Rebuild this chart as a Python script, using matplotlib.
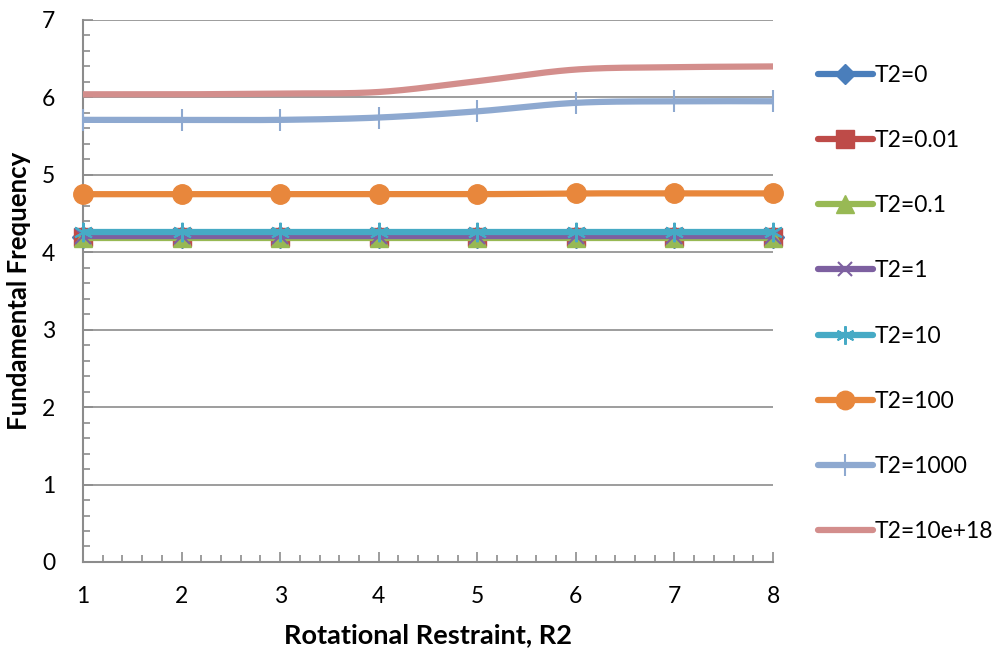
import numpy as np
import matplotlib.pyplot as plt
from matplotlib.ticker import MultipleLocator
from matplotlib.lines import Line2D

plt.rcParams["font.family"] = ["Lato", "DejaVu Sans"]

# rotational restraint values along the x axis
r2 = [1, 2, 3, 4, 5, 6, 7, 8]

labels = ["T2=0", "T2=0.01", "T2=0.1", "T2=1", "T2=10", "T2=100", "T2=1000", "T2=10e+18"]

f_t0 = [4.20, 4.20, 4.20, 4.20, 4.20, 4.20, 4.20, 4.20]
f_t001 = [4.20, 4.20, 4.20, 4.20, 4.20, 4.20, 4.20, 4.20]
f_t01 = [4.19, 4.19, 4.19, 4.19, 4.19, 4.19, 4.19, 4.19]
f_t1 = [4.21, 4.21, 4.21, 4.21, 4.21, 4.21, 4.21, 4.21]
f_t10 = [4.26, 4.26, 4.26, 4.26, 4.26, 4.26, 4.26, 4.26]
f_t100 = [4.75, 4.75, 4.75, 4.75, 4.75, 4.76, 4.76, 4.76]
f_t1000 = [5.71, 5.71, 5.71, 5.74, 5.82, 5.93, 5.95, 5.95]
f_t1e18 = [6.04, 6.04, 6.05, 6.07, 6.21, 6.36, 6.39, 6.40]

series = [f_t0, f_t001, f_t01, f_t1, f_t10, f_t100, f_t1000, f_t1e18]
colors = ["#4A7EBB", "#BE4B48", "#98B954", "#7D60A0", "#46AAC5", "#E8873C", "#8EA9D0", "#D38E8C"]
markers = ["D", "s", "^", "x", (6, 2, 0), "o", "|", None]
msizes = [11, 13, 13, 11, 14, 14, 16, 0]
thin = ("x", "|", (6, 2, 0))


def smooth(x, y, n=30):
    # Catmull-Rom curve through the points, like a smoothed spreadsheet line
    x = np.asarray(x, float)
    y = np.asarray(y, float)
    px = np.concatenate([[2 * x[0] - x[1]], x, [2 * x[-1] - x[-2]]])
    py = np.concatenate([[2 * y[0] - y[1]], y, [2 * y[-1] - y[-2]]])
    xs, ys = [], []
    t = np.linspace(0, 1, n)
    for i in range(1, len(px) - 2):
        for p, out in ((px, xs), (py, ys)):
            p0, p1, p2, p3 = p[i - 1], p[i], p[i + 1], p[i + 2]
            out.append(0.5 * (2 * p1 + (-p0 + p2) * t
                              + (2 * p0 - 5 * p1 + 4 * p2 - p3) * t ** 2
                              + (-p0 + 3 * p1 - 3 * p2 + p3) * t ** 3))
    return np.concatenate(xs), np.concatenate(ys)


fig = plt.figure(figsize=(10.03, 6.53), dpi=100)
ax = fig.add_axes([0.0828, 0.1394, 0.6879, 0.83])

handles = []
for vals, c, m, ms, lab in zip(series, colors, markers, msizes, labels):
    sx, sy = smooth(r2, vals)
    ax.plot(sx, sy, color=c, lw=4.5, solid_capstyle="round", zorder=3)
    mew = 1.5 if m in thin else 1
    if m is not None:
        ax.plot(r2, vals, ls="none", marker=m, ms=ms, color=c, mec=c, mew=mew,
                zorder=3, clip_on=False)
    handles.append(Line2D([], [], color=c, lw=4.5, marker=m, ms=ms * 0.95,
                          mec=c, mew=mew, solid_capstyle="round"))

ax.set_xlim(1, 8)
ax.set_ylim(0, 7)
ax.xaxis.set_major_locator(MultipleLocator(1))
ax.xaxis.set_minor_locator(MultipleLocator(0.2))
ax.yaxis.set_major_locator(MultipleLocator(1))
ax.yaxis.set_minor_locator(MultipleLocator(0.2))
ax.grid(axis="y", which="major", color="#8C8C8C", lw=1.2, zorder=1)
ax.tick_params(which="both", direction="in", color="#8C8C8C", width=1.2, labelsize=16.5)
ax.tick_params(which="major", length=7)
ax.tick_params(which="minor", length=5)
ax.tick_params(axis="x", pad=17)
ax.tick_params(axis="y", pad=20)
for side in ("top", "right"):
    ax.spines[side].set_visible(False)
for side in ("left", "bottom"):
    ax.spines[side].set_color("#8C8C8C")
    ax.spines[side].set_linewidth(1.5)

ax.set_xlabel("Rotational Restraint, R2", fontsize=19.5, fontweight="bold", labelpad=12)
ax.set_ylabel("Fundamental Frequency", fontsize=18.5, fontweight="bold", labelpad=8)

fig.legend(handles, labels, loc="upper left", bbox_to_anchor=(0.806, 0.915),
           frameon=False, fontsize=16.5, handlelength=2.4, handletextpad=0.1,
           labelspacing=1.93, borderaxespad=0)

fig.savefig("out.png", dpi=100)
